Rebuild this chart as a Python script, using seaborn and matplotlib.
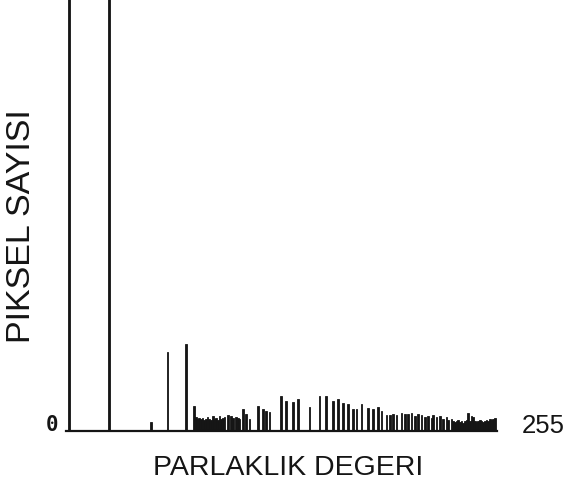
import matplotlib
matplotlib.use("Agg")
import matplotlib.pyplot as plt
import seaborn as sns
import numpy as np

# gray levels (0-255) that have pixels, and their counts (arbitrary units, 1 unit = 1 px of bar height)
levels = [0, 24, 49, 59, 70, 75,
          76, 77, 78, 79, 80, 81, 82, 83, 84, 85, 86, 87, 88, 89, 90, 91, 92, 93,
          95, 97, 98, 100, 101, 102, 104, 106, 108,
          113, 116, 118, 120, 127, 130, 134, 137, 144,
          150, 154, 158, 161, 164, 167, 170, 172, 175, 179, 182, 185, 187,
          190, 192, 194, 196, 199, 201, 203, 205, 207, 209, 211, 213, 215,
          217, 218, 220, 222, 224, 226, 227, 229,
          230, 231, 232, 233, 234, 235, 236, 237, 238, 239, 240, 241, 242,
          243, 244, 245, 246, 247, 248, 249, 250, 251, 252, 253, 254, 255]
counts = [1000, 1000, 9, 79, 87, 25,
          14, 12, 13, 12, 13, 11, 12, 14, 12, 11, 15, 12, 13, 11, 15, 12, 13, 14,
          16, 15, 13, 14, 13, 12, 22, 17, 12,
          25, 22, 20, 19, 35, 30, 29, 32, 24,
          35, 35, 30, 32, 28, 27, 22, 22, 27, 23, 22, 24, 20,
          16, 16, 17, 16, 18, 17, 17, 18, 15, 17, 16, 14, 15,
          13, 16, 14, 15, 12, 14, 11, 12,
          10, 9, 10, 11, 9, 10, 8, 10, 11, 18, 10, 15, 14,
          10, 9, 10, 11, 10, 9, 10, 11, 10, 12, 11, 12, 13]

ink = "#151515"

sns.set_style("white")
fig = plt.figure(figsize=(5.65, 4.95), dpi=100)
ax = fig.add_axes([66 / 565, 64 / 495, 431 / 565, 431 / 495])

sns.histplot(x=levels, weights=counts, discrete=True, color=ink,
             edgecolor=ink, linewidth=0.6, alpha=1, ax=ax)

ax.set_xlim(-1.8, 256.2)
ax.set_ylim(0, 431)
ax.set_xticks([])
ax.set_yticks([])
ax.set_xlabel("")
ax.set_ylabel("")
for side in ["top", "right", "left"]:
    ax.spines[side].set_visible(False)
ax.spines["bottom"].set_linewidth(1.6)
ax.spines["bottom"].set_color(ink)

fig.text(52 / 565, 1 - 425 / 495, "0", family="DejaVu Sans Mono",
         fontsize=15, fontweight="bold", color=ink, ha="center", va="center")
fig.text(543 / 565, 1 - 426 / 495, "255", family="Liberation Sans",
         fontsize=18.5, color=ink, ha="center", va="center")
fig.text(288 / 565, 1 - 468 / 495, "PARLAKLIK DEGERI", family="Liberation Sans",
         fontsize=20.5, color=ink, ha="center", va="center")
fig.text(22 / 565, 1 - 226 / 495, "PIKSEL SAYISI", family="Liberation Sans",
         fontsize=24.5, color=ink, ha="center", va="center", rotation=90)

fig.savefig("out.png", dpi=100, facecolor="white")
